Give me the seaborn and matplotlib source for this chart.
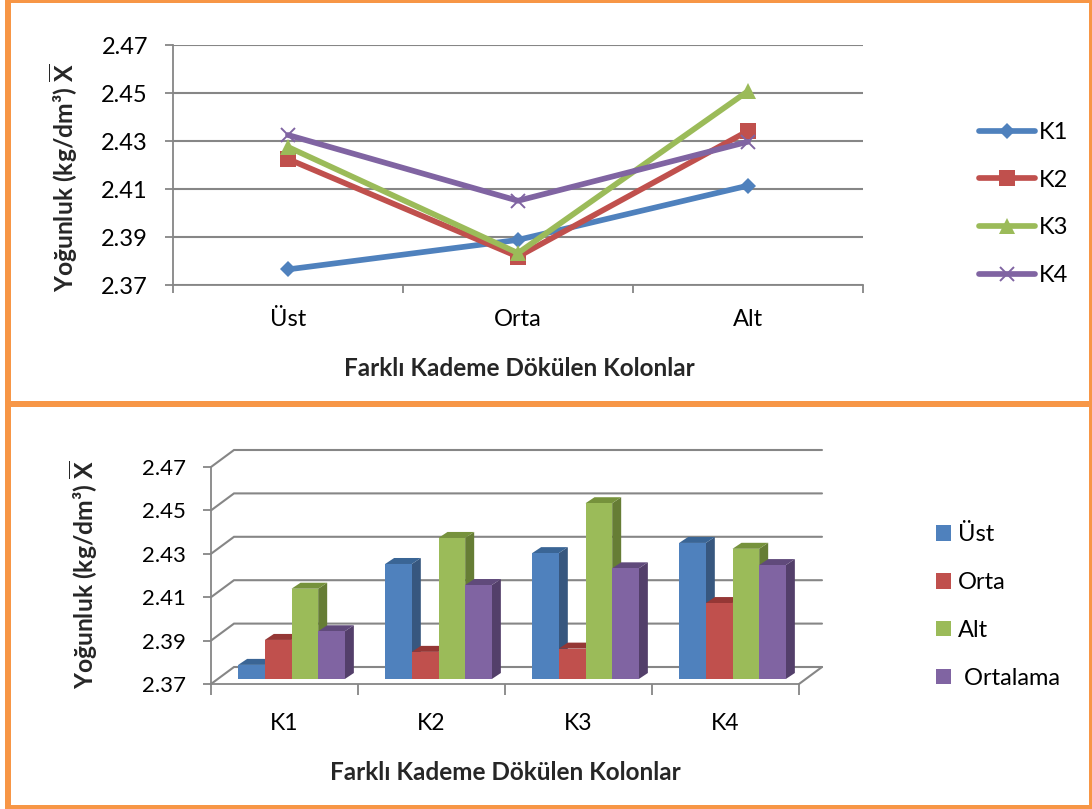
import matplotlib
matplotlib.use("Agg")
import matplotlib.pyplot as plt
import pandas as pd
import seaborn as sns
from matplotlib.lines import Line2D
from matplotlib.patches import Polygon, Rectangle

# Density by pour level, one series per column
levels = ["Üst", "Orta", "Alt"]
k1_density = [2.3765, 2.3888, 2.4114]
k2_density = [2.4225, 2.3818, 2.4342]
k3_density = [2.4275, 2.3833, 2.4508]
k4_density = [2.4325, 2.4051, 2.4297]

# Density per column, one series per level plus the mean
columns = ["K1", "K2", "K3", "K4"]
bar_groups = ["Üst", "Orta", "Alt", " Ortalama"]
ust_bars = [2.3765, 2.423, 2.428, 2.4327]
orta_bars = [2.388, 2.3825, 2.384, 2.405]
alt_bars = [2.4116, 2.435, 2.451, 2.430]
ortalama_bars = [2.392, 2.4133, 2.421, 2.4225]

y_ticks = [2.37, 2.39, 2.41, 2.43, 2.45, 2.47]
x_title = "Farklı Kademe Dökülen Kolonlar"
y_title = r"Yoğunluk (kg/dm³) $\overline{\mathbf{X}}$"

W, H = 1092, 809
FRONT = ["#4F81BD", "#C0504D", "#9BBB59", "#8064A2"]
SIDE = ["#37577F", "#8A3A38", "#667D35", "#533F6A"]
TOP = ["#3A6595", "#953735", "#76923C", "#604A7B"]
GRID = "#868686"
BORDER = "#F79646"

sns.set_theme(style="white")
plt.rcParams["font.family"] = ["Lato", "DejaVu Sans"]
plt.rcParams["text.color"] = "black"
plt.rcParams["mathtext.fontset"] = "custom"
plt.rcParams["mathtext.bf"] = "Lato:bold"


def axes_px(fig, left, right, top, bottom):
    """Create axes from pixel edges measured from the top-left corner."""
    return fig.add_axes([left / W, 1 - bottom / H, (right - left) / W, (bottom - top) / H])


def style_ticks(ax, labelsize_y, labelsize_x):
    ax.tick_params(axis="both", which="major", length=6, width=1.3, color=GRID,
                   bottom=True, left=True)
    ax.tick_params(axis="y", labelsize=labelsize_y, pad=12, labelcolor="black")
    ax.tick_params(axis="x", labelsize=labelsize_x, pad=12, labelcolor="black")


fig = plt.figure(figsize=(W / 100, H / 100), dpi=100, facecolor="white")

# Orange panel borders
for x0, y0, w, h in [(5, 0, 1087, 3), (5, 0, 6, 809), (1089, 0, 3, 809),
                     (5, 400.5, 1087, 6.5), (5, 805, 1087, 4)]:
    fig.add_artist(Rectangle((x0 / W, 1 - (y0 + h) / H), w / W, h / H,
                             transform=fig.transFigure, facecolor=BORDER, edgecolor="none"))

# Upper panel: line chart
line_df = pd.DataFrame({
    "Kademe": levels * 4,
    "Yoğunluk": k1_density + k2_density + k3_density + k4_density,
    "Kolon": [c for c in columns for _ in levels],
})
ax1 = axes_px(fig, 173, 863, 45, 285)
sns.lineplot(data=line_df, x="Kademe", y="Yoğunluk", hue="Kolon", palette=FRONT,
             sort=False, errorbar=None, legend=False, ax=ax1)
ax1.set_xlim(-0.5, 2.5)
ax1.set_ylim(2.37, 2.47)
ax1.set_yticks(y_ticks)
ax1.set_yticklabels([f"{t:.2f}" for t in y_ticks])
ax1.set_xticks([0, 1, 2])
ax1.set_axisbelow(True)
ax1.grid(True, axis="y", color=GRID, lw=1.5)
ax1.grid(False, axis="x")
for name in ("top", "right"):
    ax1.spines[name].set_visible(False)
for name in ("left", "bottom"):
    ax1.spines[name].set_color(GRID)
    ax1.spines[name].set_linewidth(1.3)
style_ticks(ax1, 17, 17)
ax1.tick_params(axis="x", which="major", length=0, pad=17)
ax1.set_xticks([-0.5, 0.5, 1.5, 2.5], minor=True)
ax1.tick_params(axis="x", which="minor", length=6, width=1.3, color=GRID, bottom=True)

for line, marker, ms, mew, color in zip(ax1.lines, ["D", "s", "^", "x"], [8.5, 11, 11.5, 10],
                                         [0, 0, 0, 1.4], FRONT):
    line.set(marker=marker, markersize=ms, markeredgewidth=mew, markerfacecolor=color,
             markeredgecolor=color, linewidth=4.1, solid_capstyle="round", clip_on=False)

ax1.set_xlabel(x_title, fontsize=17.5, fontweight="bold", va="center")
ax1.xaxis.set_label_coords(519 / W, 1 - 368 / H, transform=fig.transFigure)
ax1.set_ylabel(y_title, fontsize=17.7, fontweight="bold", va="center")
ax1.yaxis.set_label_coords(64 / W, 1 - 178 / H, transform=fig.transFigure)
fig.legend(ax1.lines[:4], columns, loc="center left", bbox_to_anchor=(979 / W, 1 - 204 / H),
           frameon=False, fontsize=17, labelspacing=1.135, handlelength=2.37, handletextpad=0.17,
           borderpad=0, borderaxespad=0)

# Lower panel: frame of the 3-D column chart
ax2 = axes_px(fig, 211, 799, 467, 684)
ax2.set_xlim(-0.5, 3.5)
ax2.set_ylim(2.37, 2.47)
ax2.set_yticks(y_ticks)
ax2.set_yticklabels([f"{t:.2f}" for t in y_ticks])
ax2.set_xticks(range(4))
ax2.set_xticklabels(columns)
ax2.set_xticks([-0.5, 0.5, 1.5, 2.5, 3.5], minor=True)
ax2.grid(False)
for name in ("top", "right"):
    ax2.spines[name].set_visible(False)
for name in ("left", "bottom"):
    ax2.spines[name].set_color(GRID)
    ax2.spines[name].set_linewidth(1.3)
style_ticks(ax2, 16, 16.5)
ax2.tick_params(axis="x", which="major", length=0, pad=21)
ax2.tick_params(axis="x", which="minor", length=8, width=1.3, color=GRID, bottom=True)

# Wall depth in data units: 23 px across and 17 px up
wall_dx = 23 / 147
wall_dy = 17 / 2170
for t in y_ticks:
    ax2.add_line(Line2D([-0.5, -0.5 + wall_dx, 3.5 + wall_dx], [t, t + wall_dy, t + wall_dy],
                        color=GRID, lw=1.5, clip_on=False, solid_joinstyle="miter"))
ax2.add_line(Line2D([3.5, 3.5 + wall_dx], [2.37, 2.37 + wall_dy], color=GRID, lw=1.5, clip_on=False))

# Columns stand slightly forward of the frame, in their own overlay axes
bar_df = pd.DataFrame({
    "Kolon": columns * 4,
    "Yoğunluk": ust_bars + orta_bars + alt_bars + ortalama_bars,
    "Kademe": [g for g in bar_groups for _ in columns],
})
ax3 = axes_px(fig, 218, 806, 462, 679)
ax3.patch.set_visible(False)
sns.barplot(data=bar_df, x="Kolon", y="Yoğunluk", hue="Kademe", palette=FRONT, saturation=1,
            width=0.726, gap=0, errorbar=None, legend=False, ax=ax3)
ax3.set_xlim(-0.5, 3.5)
ax3.set_ylim(2.37, 2.47)
ax3.axis("off")

# Extrude every bar with its side and top faces, painted left to right
bar_dx = 9 / 147
bar_dy = 6 / 2170
bars = [b for b in ax3.patches if isinstance(b, Rectangle) and b.get_width() > 0]
n_per_group = len(columns)
for i, bar in enumerate(bars):
    hue_i = i // n_per_group
    x0, x1 = bar.get_x(), bar.get_x() + bar.get_width()
    v = bar.get_height()
    order = 5 + 3 * round((x0 + 0.5) / bar.get_width())
    bar.set_zorder(order + 2)
    bar.set_linewidth(0)
    ax3.add_patch(Polygon([(x1, 2.37), (x1 + bar_dx, 2.37 + bar_dy), (x1 + bar_dx, v + bar_dy), (x1, v)],
                          closed=True, facecolor=SIDE[hue_i], edgecolor="none", zorder=order,
                          clip_on=False))
    ax3.add_patch(Polygon([(x0, v), (x1, v), (x1 + bar_dx, v + bar_dy), (x0 + bar_dx, v + bar_dy)],
                          closed=True, facecolor=TOP[hue_i], edgecolor="none", zorder=order + 1,
                          clip_on=False))

ax2.set_xlabel(x_title, fontsize=17.5, fontweight="bold", va="center")
ax2.xaxis.set_label_coords(505 / W, 1 - 773 / H, transform=fig.transFigure)
ax2.set_ylabel(y_title, fontsize=17.7, fontweight="bold", va="center")
ax2.yaxis.set_label_coords(84 / W, 1 - 575 / H, transform=fig.transFigure)

handles = [Rectangle((0, 0), 1, 1, facecolor=c, edgecolor="none") for c in FRONT]
fig.legend(handles, bar_groups, loc="center left", bbox_to_anchor=(936 / W, 1 - 606.5 / H),
           frameon=False, fontsize=17, labelspacing=1.135, handlelength=0.635, handleheight=0.635,
           handletextpad=0.3, borderpad=0, borderaxespad=0)

fig.savefig("out.png", dpi=100, facecolor="white")
